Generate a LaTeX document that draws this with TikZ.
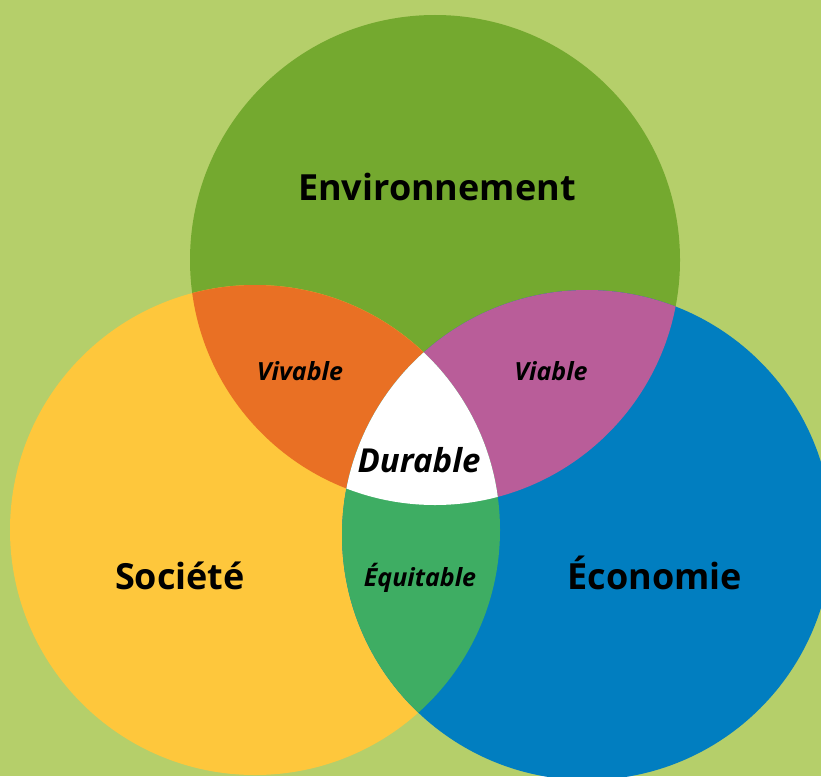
\documentclass[tikz,border=0pt]{standalone}
\usepackage{fontspec}
\setmainfont{Open Sans}

\definecolor{fond}{RGB}{181,207,106}
\definecolor{envcol}{RGB}{116,169,47}
\definecolor{soccol}{RGB}{254,199,60}
\definecolor{ecocol}{RGB}{1,126,192}
\definecolor{vivcol}{RGB}{233,112,36}
\definecolor{viacol}{RGB}{185,93,153}
\definecolor{equcol}{RGB}{62,173,99}

\begin{document}
\begin{tikzpicture}[x = 1pt, y = -1pt, % pixel like units
                pillar/.style = {font = \fontsize{36}{43}\selectfont\bfseries, anchor = base},
                overlap/.style = {font = \fontsize{25}{30}\selectfont\bfseries\itshape, anchor = base}
            ]

            \useasboundingbox (0,0) rectangle (821,776);
            \fill[fond] (0,0) rectangle (821,776);

            % centres of the three circles
            \coordinate (env) at (435,260);
            \coordinate (soc) at (255,530);
            \coordinate (eco) at (587,535);

            \fill[envcol] (env) circle (245);
            \fill[soccol] (soc) circle (245);
            \fill[ecocol] (eco) circle (245);

            % pairwise overlaps
            \begin{scope}
                \clip (env) circle (245);
                \fill[vivcol] (soc) circle (245);
            \end{scope}
            \begin{scope}
                \clip (env) circle (245);
                \fill[viacol] (eco) circle (245);
            \end{scope}
            \begin{scope}
                \clip (soc) circle (245);
                \fill[equcol] (eco) circle (245);
            \end{scope}
            % centre
            \begin{scope}
                \clip (env) circle (245);
                \clip (soc) circle (245);
                \fill[white] (eco) circle (245);
            \end{scope}

            \node[pillar] (environnement) at (437,200) {Environnement};
            \node[pillar] (societe) at (180,589) {Société};
            \node[pillar] (economie) at (655,589) {Économie};

            \node[overlap] (vivable) at (300,380) {Vivable};
            \node[overlap] (viable) at (551,380) {Viable};
            \node[overlap] (equitable) at (420,586) {Équitable};
            \node[overlap, font = \fontsize{33}{40}\selectfont\bfseries\itshape]
                (durable) at (419,472) {Durable};
\end{tikzpicture}
\end{document}
